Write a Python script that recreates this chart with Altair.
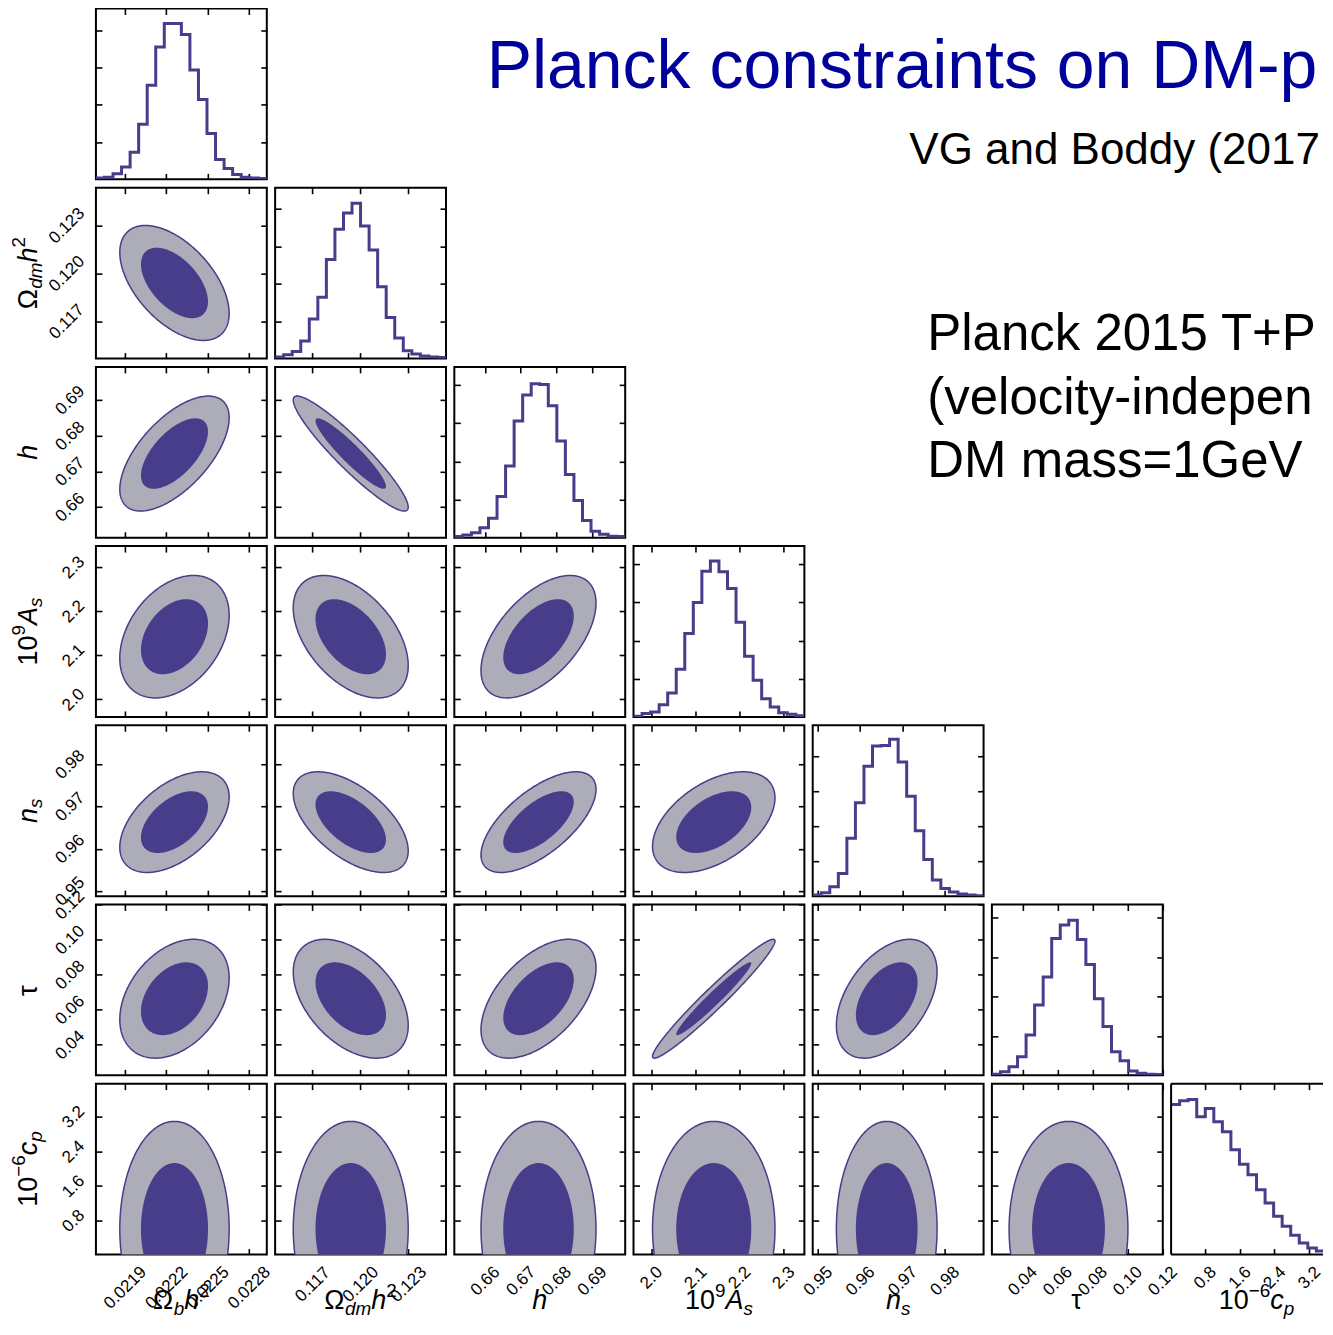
import numpy as np
import pandas as pd
import altair as alt

FONT = "Liberation Sans"
PURPLE = "#483D8B"
GREY = "#ADACB9"
TITLE_BLUE = "#00009A"

# ---------------------------------------------------------------- data
PARAMS = ["omega_b", "omega_dm", "h", "As", "ns", "tau", "cp"]

RANGE_LO = [0.02169, 0.11467, 0.6514, 1.960, 0.9488, 0.0225, 0.02]
RANGE_HI = [0.02293, 0.12536, 0.6993, 2.3476, 0.9892, 0.1202, 3.96]

# tick values
TICKS_OMEGA_B = [0.0219, 0.0222, 0.0225, 0.0228]
TICKS_OMEGA_DM = [0.117, 0.120, 0.123]
TICKS_H = [0.66, 0.67, 0.68, 0.69]
TICKS_AS = [2.0, 2.1, 2.2, 2.3]
TICKS_NS = [0.95, 0.96, 0.97, 0.98]
TICKS_TAU = [0.04, 0.06, 0.08, 0.10, 0.12]
TICKS_CP = [0.8, 1.6, 2.4, 3.2]
TICKS = [TICKS_OMEGA_B, TICKS_OMEGA_DM, TICKS_H, TICKS_AS, TICKS_NS, TICKS_TAU, TICKS_CP]
FORMATS = [".4f", ".3f", ".2f", ".1f", ".2f", ".2f", ".1f"]

# 1D marginal histograms (20 bins, heights in units of the y-tick spacing)
HIST_OMEGA_B = [0.04, 0.06, 0.15, 0.33, 0.73, 1.48, 2.52, 3.55, 4.18, 4.18,
                3.88, 2.93, 2.14, 1.23, 0.53, 0.29, 0.13, 0.06, 0.04, 0.02]
HIST_OMEGA_DM = [0.045, 0.10, 0.19, 0.47, 1.06, 1.64, 2.65, 3.46, 3.90, 4.16,
                 3.55, 2.91, 1.92, 1.10, 0.55, 0.21, 0.12, 0.07, 0.045, 0.03]
HIST_H = [0.03, 0.07, 0.13, 0.26, 0.51, 1.08, 1.88, 3.06, 3.74, 4.04,
          4.02, 3.46, 2.54, 1.66, 0.98, 0.45, 0.17, 0.09, 0.04, 0.03]
HIST_AS = [0.02, 0.09, 0.13, 0.32, 0.63, 1.25, 2.19, 3.00, 3.82, 4.09,
           3.81, 3.37, 2.48, 1.59, 0.96, 0.48, 0.26, 0.11, 0.07, 0.03]
HIST_NS = [0.03, 0.10, 0.27, 0.65, 1.66, 2.67, 3.72, 4.30, 4.31, 4.49,
           3.84, 2.86, 1.87, 1.05, 0.46, 0.22, 0.12, 0.06, 0.03, 0.01]
HIST_TAU = [0.03, 0.09, 0.22, 0.47, 1.02, 1.78, 2.49, 3.47, 3.81, 3.93,
            3.44, 2.81, 1.94, 1.24, 0.60, 0.37, 0.11, 0.05, 0.03, 0.02]
HIST_CP = [7.03, 7.20, 7.26, 6.45, 6.84, 6.22, 5.75, 4.90, 4.23, 3.73,
           3.03, 2.41, 1.79, 1.32, 0.90, 0.54, 0.31, 0.16, 0.08, 0.04]
HISTS = [HIST_OMEGA_B, HIST_OMEGA_DM, HIST_H, HIST_AS, HIST_NS, HIST_TAU, HIST_CP]
HIST_YMAX = [4.58, 4.575, 4.48, 4.48, 4.89, 4.33, 8.0]
HIST_NTICKS = [4, 4, 4, 4, 4, 4, 7]

# 2D contour description: centre, width and correlation of each pair
MEAN = [0.02226, 0.1194, 0.6750, 2.142, 0.9663, 0.0663, 0.61]
SIGMA = [0.00016, 0.00145, 0.0065, 0.056, 0.0048, 0.0137, 1.0]
CORR_ROWS = [
    [],
    [-0.53],
    [0.62, -0.93],
    [0.35, -0.47, 0.55],
    [0.50, -0.57, 0.65, 0.48],
    [0.35, -0.45, 0.52, 0.97, 0.45],
    [0.0, 0.0, 0.0, 0.0, 0.0, 0.0],
]
LEVEL_RADII = [1.52, 2.48]   # 68% and 95% 2D levels

# axis titles: (text, kind, italic)
TITLE_PIECES = [
    [("Ω", "n", False), ("b", "sub", True), ("h", "n", True), ("2", "sup", False)],
    [("Ω", "n", False), ("dm", "sub", True), ("h", "n", True), ("2", "sup", False)],
    [("h", "n", True)],
    [("10", "n", False), ("9", "sup", False), ("A", "n", True), ("s", "sub", True)],
    [("n", "n", True), ("s", "sub", True)],
    [("τ", "n", False)],
    [("10", "n", False), ("−6", "sup", False), ("c", "n", True), ("p", "sub", True)],
]

TITLE_MAIN = "Planck constraints on DM-proton scattering"
TITLE_REF = "VG and Boddy (2017)"
NOTE_LINES = ["Planck 2015 T+P", "(velocity-independent,", "DM mass=1GeV)"]
NOTE_LIMITS = [396, 396, 380]

# ---------------------------------------------------------------- layout
W = 171
H = 171
W_LAST = 152          # the last column is cut by the picture's right edge
SP = 8.33
LABEL_SIZE = 17
TITLE_SIZE = 27
CHAR_W = {"Ω": 0.768, "b": 0.556, "h": 0.556, "2": 0.556, "d": 0.556, "m": 0.833,
          "1": 0.556, "0": 0.556, "9": 0.556, "A": 0.667, "s": 0.5, "n": 0.556,
          "τ": 0.46, "−": 0.584, "6": 0.556, "c": 0.5, "p": 0.556, ".": 0.278}
CUT = "\u200b"

ONE = pd.DataFrame({"v": [0]})


def text_w(s, size):
    return sum(CHAR_W.get(c, 0.556) for c in s) * size


def label_pad(k):
    sample = format(TICKS[k][0], FORMATS[k])
    L = text_w(sample, LABEL_SIZE)
    return 11 + (L + 10) / 2.83


def xdomain(k):
    lo, hi = RANGE_LO[k], RANGE_HI[k]
    if k == 6:
        hi = lo + (hi - lo) * W_LAST / W
    return [lo, hi]


def xscale(k):
    return alt.Scale(domain=xdomain(k), nice=False, zero=False)


def yscale(k):
    return alt.Scale(domain=[RANGE_LO[k], RANGE_HI[k]], nice=False, zero=False)


def axis(k, orient, labels, values=None):
    kw = dict(values=values if values is not None else TICKS[k], orient=orient, title=None,
              domain=False, grid=False, ticks=True, tickSize=6, tickWidth=1.6,
              tickColor="black", offset=-6, labelOverlap=False, labelFlush=False,
              minExtent=0)
    if labels:
        kw.update(labels=True, format=FORMATS[k], labelAngle=315, labelAlign="center",
                  labelBaseline="middle", labelPadding=label_pad(k), labelFont=FONT,
                  labelFontSize=LABEL_SIZE, labelColor="black")
    else:
        kw.update(labels=False, maxExtent=0)
    return alt.Axis(**kw)


def title_layers(k, orient, width):
    pieces = TITLE_PIECES[k]
    S = TITLE_SIZE
    sizes = [S if kind == "n" else 0.7 * S for _, kind, _ in pieces]
    widths = [text_w(t, s) for (t, _, _), s in zip(pieces, sizes)]
    total = sum(widths)
    out = []
    if orient == "bottom":
        x = W / 2 - total / 2
        base = H + 55
        for (t, kind, it), s, w in zip(pieces, sizes, widths):
            dy = 0 if kind == "n" else (0.2 * S if kind == "sub" else -0.45 * S)
            out.append(alt.Chart(ONE).mark_text(
                text=t, font=FONT, fontSize=s, fontStyle="italic" if it else "normal",
                align="left", baseline="alphabetic", color="black"
            ).encode(x=alt.value(x), y=alt.value(base + dy)))
            x += w
    else:
        y = H / 2 + total / 2
        base = -59
        for (t, kind, it), s, w in zip(pieces, sizes, widths):
            dx = 0 if kind == "n" else (0.2 * S if kind == "sub" else -0.45 * S)
            out.append(alt.Chart(ONE).mark_text(
                text=t, font=FONT, fontSize=s, fontStyle="italic" if it else "normal",
                align="left", baseline="alphabetic", angle=270, color="black"
            ).encode(x=alt.value(base + dx), y=alt.value(y)))
            y -= w
    return out


def ellipse_df(i, j, r):
    t = np.linspace(0, np.pi, 151)
    u, v = np.cos(t), np.sin(t)
    rho = CORR_ROWS[i][j]
    x = MEAN[j] + r * SIGMA[j] * u
    yc = MEAN[i] + r * SIGMA[i] * rho * u
    dy = r * SIGMA[i] * np.sqrt(1 - rho ** 2) * v
    return pd.DataFrame({"x": x, "y": yc + dy, "y2": yc - dy})


def helper(kx, ky, ysc_domain, yvals, right=True):
    xd = xdomain(kx)
    mid = pd.DataFrame({"x": [(xd[0] + xd[1]) / 2],
                        "y": [(ysc_domain[0] + ysc_domain[1]) / 2]})
    return alt.Chart(mid).mark_point(opacity=0).encode(
        x=alt.X("x:Q", scale=xscale(kx), axis=axis(kx, "top", False)),
        y=alt.Y("y:Q", scale=alt.Scale(domain=ysc_domain, nice=False, zero=False),
                axis=axis(ky, "right", False, yvals) if right else None))


def contour_panel(i, j):
    clip = PARAMS[i] == "cp"
    outer = ellipse_df(i, j, LEVEL_RADII[1])
    inner = ellipse_df(i, j, LEVEL_RADII[0])
    layers = [
        alt.Chart(outer).mark_area(fill=GREY, stroke=PURPLE, strokeWidth=1.5, clip=clip).encode(
            x=alt.X("x:Q", scale=xscale(j), axis=axis(j, "bottom", i == 6)),
            y=alt.Y("y:Q", scale=yscale(i), axis=axis(i, "left", j == 0)),
            y2="y2:Q"),
        alt.Chart(inner).mark_area(fill=PURPLE, strokeWidth=0, clip=clip).encode(
            x=alt.X("x:Q", scale=xscale(j), axis=None),
            y=alt.Y("y:Q", scale=yscale(i), axis=None),
            y2="y2:Q"),
        helper(j, i, [RANGE_LO[i], RANGE_HI[i]], TICKS[i]),
    ]
    if j == 0:
        layers += title_layers(i, "left", W)
    if i == 6:
        layers += title_layers(j, "bottom", W)
    return alt.layer(*layers).properties(width=W, height=H)


def hist_panel(k, extra=None):
    heights = HISTS[k]
    edges = np.linspace(RANGE_LO[k], RANGE_HI[k], len(heights) + 1)
    df = pd.DataFrame({"x": edges, "y": list(heights) + [heights[-1]]})
    ydom = [0, HIST_YMAX[k]]
    yt = list(range(1, HIST_NTICKS[k] + 1))
    last = k == 6
    width = W_LAST if last else W
    layers = [
        alt.Chart(df).mark_line(interpolate="step-after", color=PURPLE, strokeWidth=3,
                                clip=True).encode(
            x=alt.X("x:Q", scale=xscale(k), axis=axis(k, "bottom", last)),
            y=alt.Y("y:Q", scale=alt.Scale(domain=ydom, nice=False, zero=True),
                    axis=axis(k, "left", False, yt))),
        helper(k, k, ydom, yt, right=not last),
    ]
    if last:
        # frame on the three sides that are inside the picture
        frame = pd.DataFrame({"v": [0]})
        layers += [
            alt.Chart(frame).mark_rule(color="black", strokeWidth=2).encode(
                x=alt.value(0), y=alt.value(0), y2=alt.value(H)),
            alt.Chart(frame).mark_rule(color="black", strokeWidth=2).encode(
                x=alt.value(0), x2=alt.value(width), y=alt.value(0)),
            alt.Chart(frame).mark_rule(color="black", strokeWidth=2).encode(
                x=alt.value(0), x2=alt.value(width), y=alt.value(H)),
        ]
        layers += title_layers(k, "bottom", width)
    if extra:
        layers += extra
    props = dict(width=width, height=H)
    if last:
        props["view"] = alt.ViewBackground(stroke="transparent")
    return alt.layer(*layers).properties(**props)


def blank(width):
    return alt.Chart(ONE).mark_point(opacity=0, size=1).encode(
        x=alt.value(width / 2), y=alt.value(H / 2)
    ).properties(width=width, height=H, view=alt.ViewBackground(stroke="transparent"))


# free text placed relative to the first panel (page origin of that panel: 96, 8)
texts = [
    alt.Chart(ONE).mark_text(text=TITLE_MAIN, font=FONT, fontSize=68, color=TITLE_BLUE,
                             align="left", baseline="alphabetic", limit=836, ellipsis=CUT).encode(
        x=alt.value(391), y=alt.value(80)),
    alt.Chart(ONE).mark_text(text=TITLE_REF, font=FONT, fontSize=44, color="black",
                             align="left", baseline="alphabetic", limit=414, ellipsis=CUT).encode(
        x=alt.value(814), y=alt.value(156)),
]
for n, (line, lim) in enumerate(zip(NOTE_LINES, NOTE_LIMITS)):
    texts.append(alt.Chart(ONE).mark_text(text=line, font=FONT, fontSize=51, color="black",
                                          align="left", baseline="alphabetic",
                                          limit=lim, ellipsis=CUT).encode(
        x=alt.value(832), y=alt.value(342 + 63.5 * n)))

cells = []
for i in range(7):
    for j in range(7):
        if j < i:
            cells.append(contour_panel(i, j))
        elif j == i:
            cells.append(hist_panel(i, texts if i == 0 else None))
        else:
            cells.append(blank(W_LAST if j == 6 else W))

chart = alt.concat(*cells, columns=7, spacing=SP, bounds="flush").properties(
    padding={"left": 0, "top": -2, "right": 0, "bottom": -2},
    background="white",
).configure_view(stroke="black", strokeWidth=2)

chart.save("out.html", embed_options={"renderer": "svg", "actions": False})
